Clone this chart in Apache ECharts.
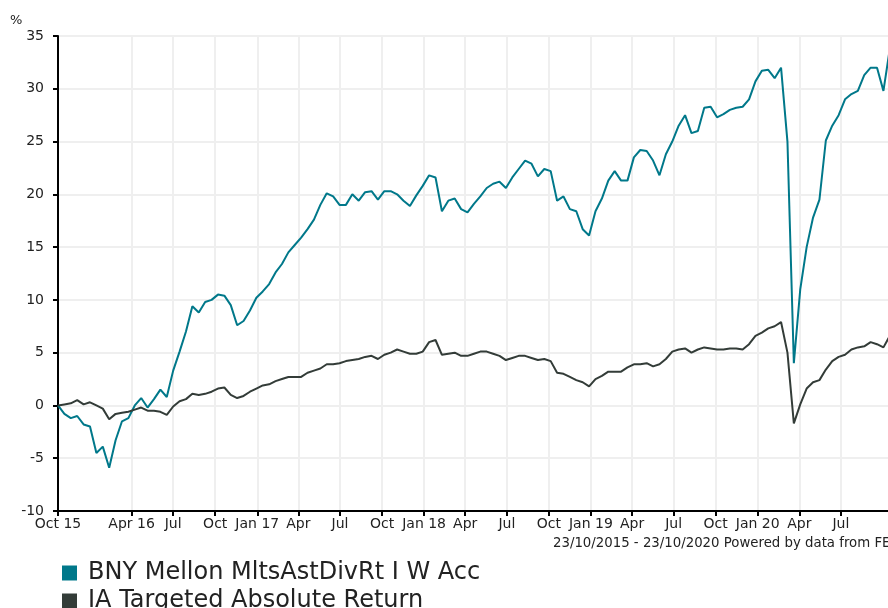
<!DOCTYPE html>
<html>
<head>
<meta charset="utf-8">
<script src="https://cdn.jsdelivr.net/npm/echarts@6/dist/echarts.min.js"></script>
<style>
  html, body { margin: 0; padding: 0; background: #fff; }
  #chart { width: 888px; height: 608px; }
</style>
</head>
<body>
<div id="chart"></div>
<script>
// fortnightly samples from 23/10/2015; the picture is cropped a little before 23/10/2020
var startDate = '2015-10-23';
var axisEndDate = '2020-10-12';
var stepDays = 14;

var fundName = 'BNY Mellon MltsAstDivRt I W Acc';
var sectorName = 'IA Targeted Absolute Return';

var fundValues = [
    0, -0.8, -1.2, -1.0, -1.8, -2.0, -4.5, -3.9, -5.9, -3.3,
    -1.5, -1.2, 0.0, 0.7, -0.2, 0.6, 1.5, 0.8, 3.3, 5.1,
    7.0, 9.4, 8.8, 9.8, 10.0, 10.5, 10.4, 9.5, 7.6, 8.0,
    9.0, 10.2, 10.8, 11.5, 12.6, 13.4, 14.5, 15.2, 15.9, 16.7,
    17.6, 19.0, 20.1, 19.8, 19.0, 19.0, 20.0, 19.4, 20.2, 20.3,
    19.5, 20.3, 20.3, 20.0, 19.4, 18.9, 19.9, 20.8, 21.8, 21.6,
    18.4, 19.4, 19.6, 18.6, 18.3, 19.1, 19.8, 20.6, 21.0, 21.2,
    20.6, 21.6, 22.4, 23.2, 22.9, 21.7, 22.4, 22.2, 19.4, 19.8,
    18.6, 18.4, 16.7, 16.1, 18.4, 19.6, 21.3, 22.2, 21.3, 21.3,
    23.5, 24.2, 24.1, 23.2, 21.8, 23.8, 25.0, 26.5, 27.5, 25.8,
    26.0, 28.2, 28.3, 27.3, 27.6, 28.0, 28.2, 28.3, 29.0, 30.7,
    31.7, 31.8, 31.0, 32.0, 25.0, 4.0, 11.0, 15.0, 17.8, 19.5,
    25.1, 26.5, 27.5, 29.0, 29.5, 29.8, 31.3, 32.0, 32.0, 29.8,
    33.8
];

var sectorValues = [
    0, 0.1, 0.2, 0.5, 0.1, 0.3, 0.0, -0.3, -1.3, -0.8,
    -0.7, -0.6, -0.4, -0.2, -0.5, -0.5, -0.6, -0.9, -0.1, 0.4,
    0.6, 1.1, 1.0, 1.1, 1.3, 1.6, 1.7, 1.0, 0.7, 0.9,
    1.3, 1.6, 1.9, 2.0, 2.3, 2.5, 2.7, 2.7, 2.7, 3.1,
    3.3, 3.5, 3.9, 3.9, 4.0, 4.2, 4.3, 4.4, 4.6, 4.7,
    4.4, 4.8, 5.0, 5.3, 5.1, 4.9, 4.9, 5.1, 6.0, 6.2,
    4.8, 4.9, 5.0, 4.7, 4.7, 4.9, 5.1, 5.1, 4.9, 4.7,
    4.3, 4.5, 4.7, 4.7, 4.5, 4.3, 4.4, 4.2, 3.1, 3.0,
    2.7, 2.4, 2.2, 1.8, 2.5, 2.8, 3.2, 3.2, 3.2, 3.6,
    3.9, 3.9, 4.0, 3.7, 3.9, 4.4, 5.1, 5.3, 5.4, 5.0,
    5.3, 5.5, 5.4, 5.3, 5.3, 5.4, 5.4, 5.3, 5.8, 6.6,
    6.9, 7.3, 7.5, 7.9, 5.0, -1.7, 0.1, 1.6, 2.2, 2.4,
    3.4, 4.2, 4.6, 4.8, 5.3, 5.5, 5.6, 6.0, 5.8, 5.5,
    6.6
];

var tickDates = [
    '2015-10-23', '2016-04-01', '2016-07-01', '2016-10-01', '2017-01-01',
    '2017-04-01', '2017-07-01', '2017-10-01', '2018-01-01', '2018-04-01',
    '2018-07-01', '2018-10-01', '2019-01-01', '2019-04-01', '2019-07-01',
    '2019-10-01', '2020-01-01', '2020-04-01', '2020-07-01'
];
var tickLabels = [
    'Oct 15', 'Apr 16', 'Jul', 'Oct', 'Jan 17',
    'Apr', 'Jul', 'Oct', 'Jan 18', 'Apr',
    'Jul', 'Oct', 'Jan 19', 'Apr', 'Jul',
    'Oct', 'Jan 20', 'Apr', 'Jul'
];

var yTicks = [-10, -5, 0, 5, 10, 15, 20, 25, 30, 35];

var toTime = function (s) {
    var p = s.split('-');
    return Date.UTC(+p[0], +p[1] - 1, +p[2]);
};

var t0 = toTime(startDate);
var day = 24 * 3600 * 1000;
var buildSeries = function (values) {
    var res = [];
    for (var i = 0; i < values.length; i++) {
        res.push([t0 + i * stepDays * day, values[i]]);
    }
    return res;
};

var tickTimes = tickDates.map(toTime);

var option = {
    animation: false,
    backgroundColor: '#fff',
    textStyle: { fontFamily: 'DejaVu Sans' },
    grid: {
        left: 58,
        right: 0,
        top: 36,
        bottom: 97
    },
    legend: {
        orient: 'horizontal',
        left: 57,
        top: 556,
        width: 470,
        icon: 'rect',
        itemWidth: 15,
        itemHeight: 15,
        itemGap: 4,
        selectedMode: false,
        data: [fundName, sectorName],
        textStyle: {
            fontSize: 24,
            color: '#222',
            padding: [0, 0, 0, 6]
        }
    },
    graphic: [{
        type: 'text',
        left: 10,
        top: 14,
        style: { text: '%', fontSize: 13, fill: '#222', fontFamily: 'DejaVu Sans' }
    }, {
        type: 'text',
        left: 553,
        top: 537,
        style: {
            text: '23/10/2015 - 23/10/2020 Powered by data from FE',
            fontSize: 13.3,
            fill: '#222',
            fontFamily: 'DejaVu Sans'
        }
    }],
    xAxis: {
        type: 'value',
        min: toTime(startDate),
        max: toTime(axisEndDate),
        axisLine: { onZero: false, lineStyle: { color: '#000', width: 2 } },
        axisTick: {
            show: true,
            length: 5,
            lineStyle: { color: '#000', width: 2 },
            customValues: tickTimes
        },
        axisLabel: {
            customValues: tickTimes,
            fontSize: 14,
            color: '#222',
            margin: 6,
            formatter: function (val) {
                var idx = tickTimes.indexOf(val);
                return idx >= 0 ? tickLabels[idx] : '';
            }
        },
        splitLine: {
            show: true,
            lineStyle: { color: '#efefef', width: 2 }
        }
    },
    yAxis: {
        type: 'value',
        min: yTicks[0],
        max: yTicks[yTicks.length - 1],
        interval: 5,
        axisLine: { show: true, onZero: false, lineStyle: { color: '#000', width: 2 } },
        axisTick: { show: true, length: 5, lineStyle: { color: '#000', width: 2 } },
        axisLabel: { fontSize: 14, color: '#222', margin: 14 },
        splitLine: { show: true, lineStyle: { color: '#efefef', width: 2 } }
    },
    series: [{
        name: fundName,
        type: 'line',
        symbol: 'none',
        clip: true,
        color: '#00788a',
        lineStyle: { width: 2, color: '#00788a' },
        data: buildSeries(fundValues)
    }, {
        name: sectorName,
        type: 'line',
        symbol: 'none',
        clip: true,
        color: '#333c38',
        lineStyle: { width: 2, color: '#333c38' },
        data: buildSeries(sectorValues)
    }]
};

var myChart = echarts.init(document.getElementById('chart'));
myChart.setOption(option);
</script>
</body>
</html>
